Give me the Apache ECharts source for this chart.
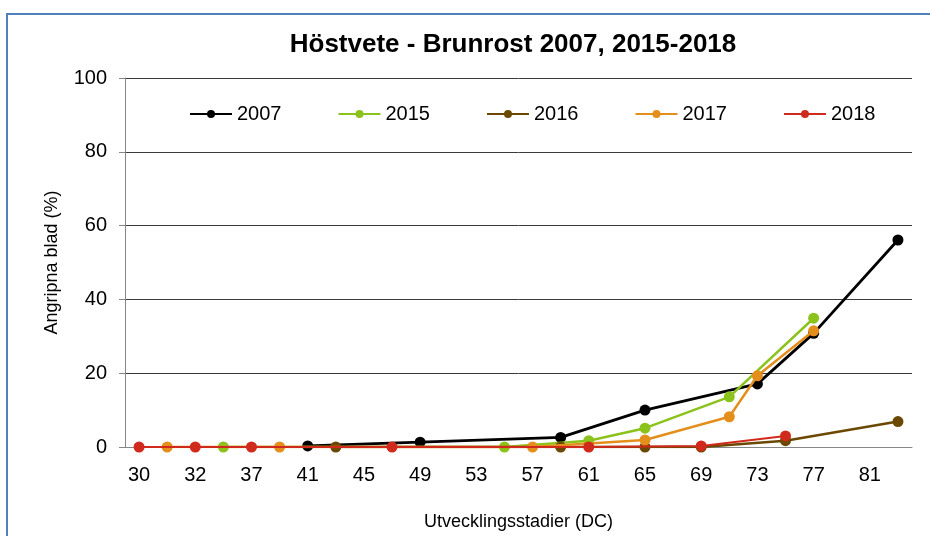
<!DOCTYPE html>
<html>
<head>
<meta charset="utf-8">
<script src="https://cdn.jsdelivr.net/npm/echarts@6/dist/echarts.min.js"></script>
<style>html,body{margin:0;padding:0;background:#fff}#c{width:930px;height:536px}</style>
</head>
<body>
<div id="c"></div>
<script>
// Category stages (every other one labelled)
const stages = ['30','31','32','34','37','39','41','43','45','47','49','51','53','55','57','59','61','63','65','67','69','71','73','75','77','79','81','83'];
const _ = null;
const s2007 = [_,_,_,_,_,_,0.3,_,_,_,1.3,_,_,_,_,2.6,_,_,10.0,_,_,_,17.1,_,30.8,_,_,56.1];
const s2015 = [_,_,_,0,_,_,_,_,_,_,_,_,_,0,_,_,1.7,_,5.1,_,_,13.6,_,_,34.9,_,_,_];
const s2016 = [_,_,_,_,_,_,_,0,_,_,_,_,_,_,_,0,_,_,0,_,0,_,_,1.7,_,_,_,6.9];
const s2017 = [_,0,_,_,_,0,_,_,_,_,_,_,_,_,0,_,_,_,1.9,_,_,8.2,19.3,_,31.5,_,_,_];
const s2018 = [0,_,0,_,0,_,_,_,_,0,_,_,_,_,_,_,0,_,_,_,0.3,_,_,3.0,_,_,_,_];
const seriesNames = ['2007','2015','2016','2017','2018'];
const seriesData = [s2007, s2015, s2016, s2017, s2018];
const colors = ['#000000','#8cc21c','#6a4800','#e48f1c','#cf2a1c'];
const widths = [2.8, 2.5, 2.5, 2.5, 2];
const yTicks = {min:0, max:100, interval:20};

const chart = echarts.init(document.getElementById('c'), null, {renderer:'canvas'});
const font = 'Liberation Sans, Arial, sans-serif';
chart.setOption({
  animation:false,
  backgroundColor:'#fff',
  graphic:[{type:'rect', shape:{x:7,y:14,width:1000,height:700}, style:{fill:'none', stroke:'#4f81bd', lineWidth:2}, z:-10}],
  title:{text:'Höstvete - Brunrost 2007, 2015-2018', left:508, top:27, textAlign:'center',
    textStyle:{fontFamily:'Liberation Sans, Arial', fontWeight:'bold', fontSize:26, color:'#000'}},
  legend:{left:184, top:99, itemWidth:42, itemHeight:10, itemGap:56,
    textStyle:{fontFamily:font, fontSize:20, color:'#000'},
    data:seriesNames},
  grid:{left:125, right:18, top:78, bottom:85, containLabel:false},
  xAxis:{type:'category', data:stages, boundaryGap:true,
    name:'Utvecklingsstadier (DC)', nameLocation:'middle', nameGap:66,
    nameTextStyle:{fontFamily:font, fontSize:18, color:'#000'},
    axisLine:{lineStyle:{color:'#868686', width:1}},
    axisTick:{show:false},
    axisLabel:{interval:1, fontFamily:font, fontSize:20, color:'#000', margin:18},
    splitLine:{show:false}},
  yAxis:{type:'value', min:yTicks.min, max:yTicks.max, interval:yTicks.interval,
    name:'Angripna blad (%)', nameLocation:'middle', nameGap:64,
    nameTextStyle:{fontFamily:font, fontSize:18, color:'#000'},
    axisLine:{show:true, lineStyle:{color:'#868686', width:1}},
    axisTick:{show:true, length:6, lineStyle:{color:'#868686'}},
    axisLabel:{fontFamily:font, fontSize:20, color:'#000', margin:18},
    splitLine:{show:true, lineStyle:{color:'#3a3a3a', width:1}}},
  series: seriesNames.map((n,i)=>({
    name:n, type:'line', data:seriesData[i], connectNulls:true,
    symbol:'circle', symbolSize:11, showSymbol:true,
    itemStyle:{color:colors[i]}, lineStyle:{color:colors[i], width:widths[i]},
    z:2+i
  }))
});
</script>
</body>
</html>
